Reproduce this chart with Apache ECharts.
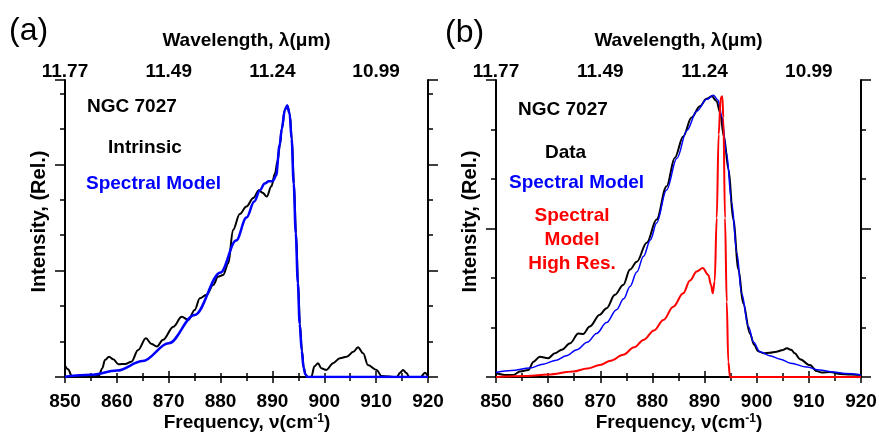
<!DOCTYPE html>
<html>
<head>
<meta charset="utf-8">
<script src="https://cdn.jsdelivr.net/npm/echarts@6/dist/echarts.min.js"></script>
<style>html,body{margin:0;padding:0;background:#fff}#c{width:879px;height:432px}</style>
</head>
<body>
<div id="c"></div>
<script>
// ---- Panel (a): Intrinsic vs Spectral Model ----
const aIntrinsicFreq = [850,850.6,851.3,853,856.5,857.2,857.7,858.5,859.3,860.3,861.6,862.8,864.1,865.6,866.7,867.7,868.9,870.9,872.5,873.8,875.0,876.0,877.3,878.6,879.5,880.5,881.5,882.4,883.7,885.0,886.3,887.4,888.1,888.9,889.8,890.5,891.0,891.4,891.8,892.4,892.85,893.35,893.75,894.15,894.55,894.95,895.3,895.7,896.05,896.4,896.8,897.5,898.1,898.8,899.4,900.4,901.7,903.0,904.3,905.6,906.5,907.5,908.4,910.1,911.0,914.0,914.6,915.2,915.8,916.4,918.6,919.4,920];
const aIntrinsicVal  = [0.32,0.22,0.03,0.0,0.03,0.25,0.48,0.57,0.50,0.36,0.37,0.43,0.76,1.09,0.93,0.86,1.05,1.42,1.70,1.61,1.89,2.22,2.32,2.60,2.83,2.88,3.21,4.15,4.60,4.81,5.05,5.27,5.20,5.09,5.38,5.75,6.10,6.50,7.00,7.54,7.66,7.42,6.70,5.45,4.05,2.65,1.50,0.74,0.26,0.07,0.0,0.0,0.30,0.39,0.25,0.20,0.39,0.53,0.57,0.71,0.84,0.67,0.34,0.20,0.03,0.0,0.12,0.20,0.12,0.0,0.0,0.12,0.02];

const aModelFreq = [850,855,860,865,870,875,880,883,885,886.5,887.6,888.5,889.3,890.1,890.7,891.4,891.8,892.4,892.85,893.3,893.7,894.1,894.5,894.9,895.25,895.65,896.0,896.35,896.7,897.2,920];
const aModelVal  = [0.01,0.06,0.18,0.45,0.95,1.75,2.95,3.85,4.50,4.95,5.27,5.46,5.52,5.53,5.68,6.55,7.00,7.54,7.66,7.44,6.72,5.45,4.05,2.65,1.50,0.74,0.26,0.07,0.0,0.0,0.0];

// ---- Panel (b): Data, Spectral Model, Spectral Model High Res. ----
const bDataFreq = [850,850.1,851.7,853.3,854.6,856.2,857.2,858.4,860.0,861.3,862.6,864.2,865.8,866.7,868.0,869.9,871.2,872.8,874.4,875.7,877.0,878.9,880.8,882.7,884.3,885.9,887.5,889.1,890.4,891.4,892.3,893.0,893.7,894.6,895.5,896.5,897.4,898.7,899.5,900.3,901.3,902.5,903.8,904.8,905.8,906.6,907.3,908.3,910.2,911.5,912.5,914.1,916.0,918.0,920];
const bDataVal  = [0.08,0.07,0.04,0.04,0.11,0.14,0.31,0.41,0.38,0.48,0.55,0.68,0.88,0.87,1.02,1.26,1.39,1.66,1.86,2.17,2.33,2.71,3.18,3.85,4.43,4.86,5.24,5.47,5.62,5.67,5.57,5.34,4.86,4.19,3.18,2.17,1.49,0.88,0.65,0.52,0.48,0.49,0.51,0.54,0.58,0.55,0.48,0.36,0.24,0.12,0.09,0.10,0.06,0.05,0.04];

const bModelFreq = [850,853,856.5,859,861.6,863.5,865.5,867.5,869.3,871.2,873.1,874.5,875.7,877.0,878.3,879.6,880.8,882.7,884.7,886.6,888.5,890.4,891.7,892.6,893.3,894.2,895.2,896.2,897.1,898.4,899.4,900.6,902.5,904.5,906.5,909.6,912.0,914.7,917.0,920];
const bModelVal  = [0.09,0.13,0.18,0.26,0.34,0.43,0.55,0.70,0.88,1.10,1.36,1.58,1.83,2.12,2.44,2.77,3.11,3.78,4.42,4.98,5.37,5.61,5.69,5.59,5.27,4.53,3.52,2.50,1.69,1.02,0.70,0.51,0.43,0.36,0.28,0.20,0.14,0.10,0.07,0.04];

const bHighResFreq = [850,856,860,864.8,867.5,869.9,872,874.4,876.5,878.3,880.3,882.1,884,885.9,887.2,888.5,889.64,890.72,891.24,891.56,891.94,892.33,892.7,893.1,893.4,893.6,893.92,894.25,894.55,894.88,895.5,920];
const bHighResVal  = [0.0,0.02,0.05,0.11,0.17,0.24,0.33,0.45,0.60,0.75,0.94,1.15,1.42,1.69,1.95,2.13,2.20,2.06,1.86,1.69,1.93,3.21,4.90,5.64,5.67,5.24,3.21,1.52,0.31,0.0,0.0,0.0];

// ---- Tick labels ----
const freqMin = 850, freqMax = 920;
const topTickFreqs  = [850, 870, 890, 910];
const topTickLabels = ['11.77', '11.49', '11.24', '10.99'];

const FONT = 'Liberation Sans, Arial, sans-serif';
const pair = (xs, ys) => xs.map((x, i) => [x, ys[i]]);

function bottomAxis(g) {
  return {
    type: 'value', gridIndex: g, position: 'bottom', min: freqMin, max: freqMax, interval: 10,
    axisLine: { show: true, lineStyle: { color: '#000', width: 2 } },
    axisTick: { show: true, inside: false, length: 6, lineStyle: { color: '#000', width: 1.5 } },
    minorTick: { show: true, splitNumber: 2, length: 4, lineStyle: { color: '#000', width: 1.5 } },
    splitLine: { show: false }, minorSplitLine: { show: false },
    axisLabel: { color: '#000', fontSize: 19, fontWeight: 'bold', fontFamily: FONT, margin: 15 }
  };
}
function topAxis(g) {
  return {
    type: 'value', gridIndex: g, position: 'top', min: freqMin, max: freqMax, interval: 20,
    axisLine: { show: true, lineStyle: { color: '#000', width: 2 } },
    axisTick: { show: true, inside: false, length: 6, lineStyle: { color: '#000', width: 1.5 } },
    minorTick: { show: true, splitNumber: 4, length: 4, lineStyle: { color: '#000', width: 1.5 } },
    splitLine: { show: false },
    axisLabel: { color: '#000', fontSize: 19, fontWeight: 'bold', fontFamily: FONT, margin: -1,
      formatter: v => { const i = topTickFreqs.indexOf(Math.round(v)); return i >= 0 ? topTickLabels[i] : ''; } },
    name: 'Wavelength, λ(μm)', nameLocation: 'middle', nameGap: 30,
    nameTextStyle: { color: '#000', fontSize: 19, fontWeight: 'bold', fontFamily: FONT }
  };
}
function sideAxis(g, pos, max, withName) {
  const ax = {
    type: 'value', gridIndex: g, position: pos, min: 0, max: max, interval: 3,
    axisLine: { show: true, lineStyle: { color: '#000', width: 2 } },
    axisTick: { show: true, inside: false, length: 10, lineStyle: { color: '#000', width: 1.5 } },
    minorTick: { show: true, splitNumber: 3, length: 5, lineStyle: { color: '#000', width: 1.5 } },
    splitLine: { show: false },
    axisLabel: { show: false }
  };
  if (withName) {
    ax.name = 'Intensity, (Rel.)';
    ax.nameLocation = 'middle';
    ax.nameGap = 16;
    ax.nameTextStyle = { color: '#000', fontSize: 20, fontWeight: 'bold', fontFamily: FONT, padding: [0, 0, 0, 14] };
  }
  return ax;
}
function line(name, xs, ys, xi, yi, color, width) {
  return { name, type: 'line', xAxisIndex: xi, yAxisIndex: yi, data: pair(xs, ys),
    showSymbol: false, smooth: 0.35, smoothMonotone: 'x', clip: true,
    lineStyle: { color, width }, itemStyle: { color }, animation: false };
}
function labelC(text, cx, cy, color) {
  return { type: 'text', x: cx, y: cy, style: { text, fill: color, font: 'bold 19px ' + FONT, align: 'center', verticalAlign: 'middle' } };
}
function labelL(text, x, cy, color) {
  return { type: 'text', x: x, y: cy, style: { text, fill: color, font: 'bold 19px ' + FONT, align: 'left', verticalAlign: 'middle' } };
}
function freqTitle(cx) {
  return { type: 'text', x: cx, y: 423, style: {
    text: 'Frequency, ν(cm{sup|-1})', fill: '#000', font: 'bold 19px ' + FONT, align: 'center', verticalAlign: 'middle',
    rich: { sup: { fontSize: 12, fontWeight: 'bold', fontFamily: FONT, fill: '#000', verticalAlign: 'top', padding: [0, 0, 8, 0] } } } };
}

const chart = echarts.init(document.getElementById('c'), null, { renderer: 'canvas' });
chart.setOption({
  animation: false,
  backgroundColor: '#fff',
  grid: [
    { left: 65, top: 80, width: 363, height: 297, outerBoundsMode: 'none', containLabel: false },
    { left: 496, top: 80, width: 365, height: 297, outerBoundsMode: 'none', containLabel: false }
  ],
  xAxis: [bottomAxis(0), topAxis(0), bottomAxis(1), topAxis(1)],
  yAxis: [sideAxis(0, 'left', 8.38, true), sideAxis(0, 'right', 8.38, false),
          sideAxis(1, 'left', 6.0, true), sideAxis(1, 'right', 6.0, false)],
  series: [
    line('Intrinsic', aIntrinsicFreq, aIntrinsicVal, 0, 0, '#000000', 2),
    line('Spectral Model', aModelFreq, aModelVal, 0, 0, '#0000ff', 2.5),
    line('Data', bDataFreq, bDataVal, 2, 2, '#000000', 2),
    line('Spectral Model', bModelFreq, bModelVal, 2, 2, '#0000ff', 1.5),
    line('Spectral Model High Res.', bHighResFreq, bHighResVal, 2, 2, '#ff0000', 2)
  ],
  graphic: [
    { type: 'text', x: 9, y: 15, style: { text: '(a)', fill: '#000', font: '32px ' + FONT } },
    { type: 'text', x: 445, y: 17, style: { text: '(b)', fill: '#000', font: '32px ' + FONT } },
    freqTitle(247),
    freqTitle(679),
    labelL('NGC 7027', 87, 107, '#000'),
    labelL('Intrinsic', 108, 148, '#000'),
    labelL('Spectral Model', 86, 184, '#0000ff'),
    labelL('NGC 7027', 518, 110, '#000'),
    labelL('Data', 545, 153, '#000'),
    labelL('Spectral Model', 509, 183, '#0000ff'),
    labelC('Spectral', 572, 216, '#ff0000'),
    labelC('Model', 572, 240, '#ff0000'),
    labelC('High Res.', 572, 264, '#ff0000')
  ]
});
</script>
</body>
</html>
